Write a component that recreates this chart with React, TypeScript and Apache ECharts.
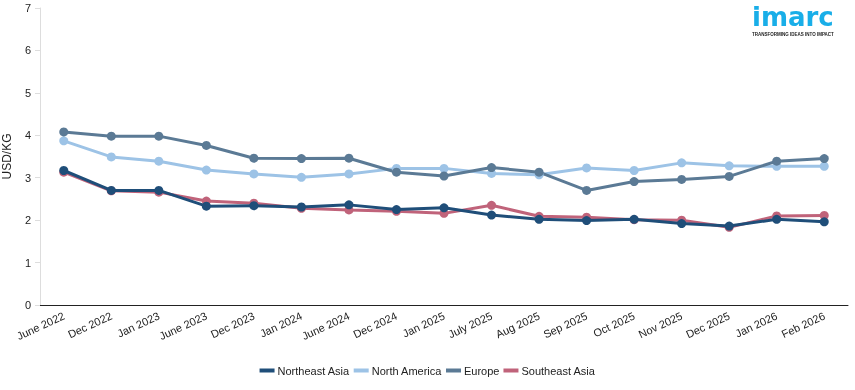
import React, { useEffect, useRef } from "react";
import * as echarts from "echarts";

const categories = [
  "June 2022", "Dec 2022", "Jan 2023", "June 2023", "Dec 2023", "Jan 2024",
  "June 2024", "Dec 2024", "Jan 2025", "July 2025", "Aug 2025", "Sep 2025",
  "Oct 2025", "Nov 2025", "Dec 2025", "Jan 2026", "Feb 2026",
];

const northeastAsia = [3.17, 2.7, 2.7, 2.33, 2.34, 2.31, 2.36, 2.25, 2.29, 2.12, 2.02, 1.99, 2.02, 1.92, 1.86, 2.02, 1.96];
const northAmerica = [3.87, 3.49, 3.39, 3.18, 3.09, 3.01, 3.09, 3.22, 3.22, 3.1, 3.07, 3.23, 3.17, 3.35, 3.28, 3.27, 3.27];
const europe = [4.08, 3.98, 3.98, 3.76, 3.46, 3.45, 3.46, 3.13, 3.04, 3.24, 3.13, 2.7, 2.91, 2.96, 3.03, 3.39, 3.45];
const southeastAsia = [3.13, 2.69, 2.66, 2.45, 2.4, 2.28, 2.24, 2.21, 2.16, 2.35, 2.09, 2.07, 2.01, 2.0, 1.83, 2.1, 2.11];

const yTicks = [0, 7, 1];

const FONT = "Liberation Sans, Arial, sans-serif";

function mkSeries(name: string, data: number[], color: string, z: number) {
  return {
    name,
    type: "line",
    data,
    symbol: "circle",
    symbolSize: 9,
    showSymbol: true,
    lineStyle: { width: 3, color },
    itemStyle: { color },
    z,
  };
}

export default function App() {
  const ref = useRef<HTMLDivElement>(null);
  useEffect(() => {
    if (!ref.current) return;
    const chart = echarts.init(ref.current, undefined, { renderer: "svg" });
    chart.setOption({
      animation: false,
      textStyle: { fontFamily: FONT },
      grid: { left: 40, right: 7, top: 8, bottom: 85, containLabel: false, outerBoundsMode: "none" },
      legend: {
        bottom: 9,
        left: "center",
        itemWidth: 15,
        itemHeight: 4,
        itemGap: 4,
        icon: "rect",
        textStyle: { fontSize: 11, color: "#222", fontFamily: FONT, padding: [0, 0, 0, -2] },
        data: ["Northeast Asia", "North America", "Europe", "Southeast Asia"],
      },
      xAxis: {
        type: "category",
        data: categories,
        boundaryGap: true,
        axisLine: { lineStyle: { color: "#222", width: 1 } },
        axisTick: { alignWithLabel: true, length: 6, lineStyle: { color: "#222" } },
        axisLabel: { rotate: 25, fontSize: 11, color: "#222", margin: 10, interval: 0, fontFamily: FONT },
        splitLine: { show: false },
      },
      yAxis: {
        type: "value",
        min: yTicks[0],
        max: yTicks[1],
        interval: yTicks[2],
        name: "USD/KG",
        nameLocation: "middle",
        nameGap: 27,
        nameRotate: 90,
        nameTextStyle: { fontSize: 12, color: "#222", fontFamily: FONT },
        axisLine: { show: true, lineStyle: { color: "#ddd" } },
        axisTick: { show: true, length: 5, lineStyle: { color: "#ddd" } },
        axisLabel: { fontSize: 11, color: "#222", margin: 9, fontFamily: FONT },
        splitLine: { show: false },
      },
      graphic: [
        {
          type: "text",
          left: 752,
          top: 4,
          style: {
            text: "imarc",
            fontSize: 26,
            fontWeight: "bold",
            fill: "#19aee8",
            fontFamily: "DejaVu Sans, sans-serif",
          },
        },
        {
          type: "text",
          left: 752,
          top: 32,
          style: {
            text: "TRANSFORMING IDEAS INTO IMPACT",
            fontSize: 4.5,
            fontWeight: "bold",
            fill: "#222",
            fontFamily: FONT,
          },
        },
      ],
      series: [
        mkSeries("Northeast Asia", northeastAsia, "#1f4e79", 5),
        mkSeries("North America", northAmerica, "#9dc3e6", 2),
        mkSeries("Europe", europe, "#5b7a95", 2),
        mkSeries("Southeast Asia", southeastAsia, "#c0637a", 2),
      ],
    });
    return () => chart.dispose();
  }, []);
  return <div ref={ref} style={{ position: "fixed", left: 0, top: 0, width: 855, height: 390 }} />;
}
